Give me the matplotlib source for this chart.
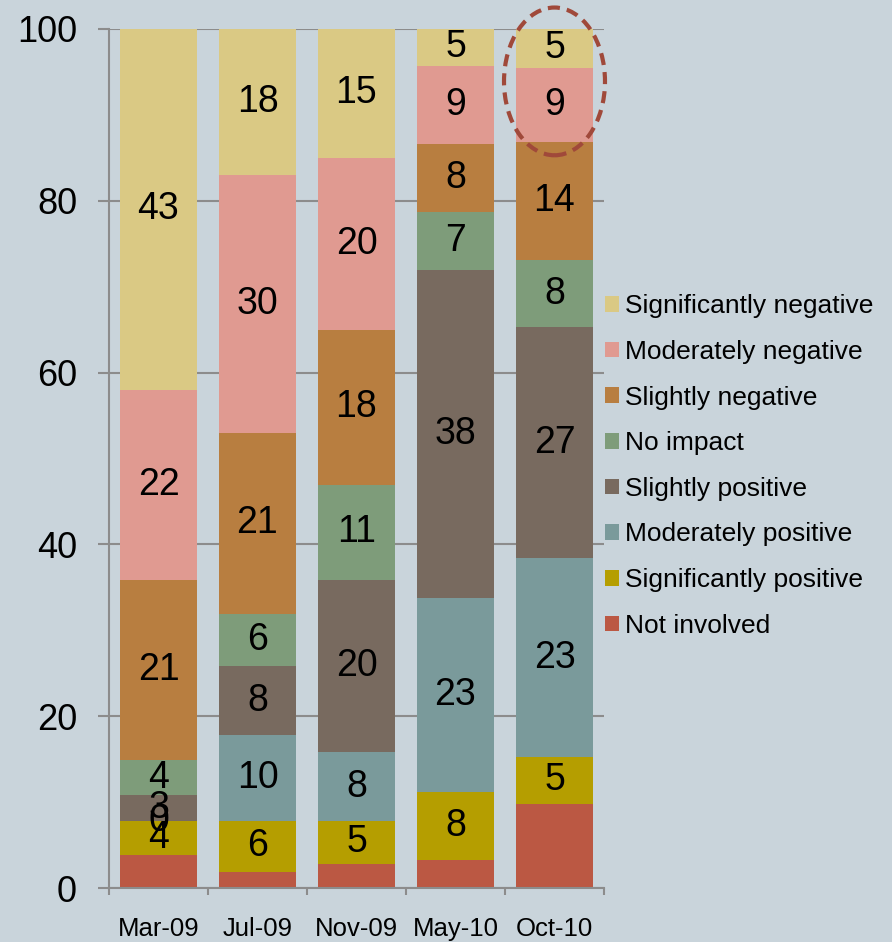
import matplotlib
matplotlib.use("Agg")
import matplotlib.pyplot as plt
from matplotlib.patches import Ellipse
import numpy as np

months = ["Mar-09", "Jul-09", "Nov-09", "May-10", "Oct-10"]

# bottom to top
series = [
    "Not involved",
    "Significantly positive",
    "Moderately positive",
    "Slightly positive",
    "No impact",
    "Slightly negative",
    "Moderately negative",
    "Significantly negative",
]
colors = ["#bb5843", "#b59e00", "#7a9a9b", "#786a5f",
          "#7e9c7a", "#b87e40", "#e09a91", "#dac984"]

# segment heights (share of 100%)
not_involved = [3.8, 1.9, 2.8, 3.3, 9.8]
sig_pos = [4.0, 5.9, 5.0, 7.9, 5.45]
mod_pos = [0.0, 10.0, 8.0, 22.6, 23.15]
slight_pos = [3.0, 8.0, 20.1, 38.1, 26.9]
no_impact = [4.1, 6.1, 11.0, 6.8, 7.8]
slight_neg = [21.0, 21.1, 18.1, 7.9, 13.7]
mod_neg = [22.1, 30.0, 20.0, 9.1, 8.7]
sig_neg = [42.0, 17.0, 15.0, 4.3, 4.5]

# printed labels (None = no label)
not_involved_lbl = [None, None, None, None, None]
sig_pos_lbl = [4, 6, 5, 8, 5]
mod_pos_lbl = [0, 10, 8, 23, 23]
slight_pos_lbl = [3, 8, 20, 38, 27]
no_impact_lbl = [4, 6, 11, 7, 8]
slight_neg_lbl = [21, 21, 18, 8, 14]
mod_neg_lbl = [22, 30, 20, 9, 9]
sig_neg_lbl = [43, 18, 15, 5, 5]

values = [not_involved, sig_pos, mod_pos, slight_pos,
          no_impact, slight_neg, mod_neg, sig_neg]
labels = [not_involved_lbl, sig_pos_lbl, mod_pos_lbl, slight_pos_lbl,
          no_impact_lbl, slight_neg_lbl, mod_neg_lbl, sig_neg_lbl]

plt.rcParams["font.family"] = ["Liberation Sans", "DejaVu Sans"]
bg = "#c9d4db"
grid_c = "#8c8c8c"

fig = plt.figure(figsize=(8.92, 9.42), dpi=100, facecolor=bg)
ax = fig.add_axes([109 / 892, 54 / 942, 495 / 892, 859 / 942])
ax.set_facecolor(bg)

x = np.arange(len(months))
bottom = np.zeros(len(months))
bars = []
for vals, lbls, name, col in zip(values, labels, series, colors):
    b = ax.bar(x, vals, 0.78, bottom=bottom, color=col, label=name, zorder=2)
    bars.append(b)
    for i, (v, l) in enumerate(zip(vals, lbls)):
        if l is not None:
            ax.text(x[i], bottom[i] + v / 2, str(l), ha="center", va="center",
                    fontsize=27, color="black", zorder=3)
    bottom += np.array(vals)

ax.set_xlim(-0.5, len(months) - 0.5)
ax.set_ylim(0, 100)
ax.set_yticks(range(0, 101, 20))
ax.tick_params(axis="y", labelsize=26, length=8, width=1.5, color=grid_c, pad=15)
ax.yaxis.grid(True, color=grid_c, linewidth=1.5, zorder=0)
ax.set_axisbelow(True)

ax.set_xticks(np.arange(-0.5, len(months)), minor=False)
ax.set_xticklabels([])
ax.set_xticks(x, minor=True)
ax.set_xticklabels(months, minor=True)
ax.tick_params(axis="x", which="major", length=5, width=1.5, color=grid_c)
ax.tick_params(axis="x", which="minor", length=0, labelsize=18.5, pad=21)

for s in ["top", "right"]:
    ax.spines[s].set_visible(False)
for s in ["left", "bottom"]:
    ax.spines[s].set_color(grid_c)
    ax.spines[s].set_linewidth(1.5)

# highlight ring around latest top segments
ring = Ellipse((4.0, 93.9), 1.02, 17.2, fill=False, edgecolor="#a0493a",
               linewidth=3, linestyle=(0, (2.9, 1.7)), clip_on=False, zorder=4)
ax.add_patch(ring)

handles = bars[::-1]
fig.legend(handles, series[::-1], loc="center left",
           bbox_to_anchor=(605 / 892, 1 - 466 / 942), frameon=False,
           fontsize=19, handlelength=0.53, handleheight=0.53,
           handletextpad=0.23, labelspacing=0.82, borderpad=0,
           borderaxespad=0)

fig.savefig("out.png", dpi=100, facecolor=bg)
